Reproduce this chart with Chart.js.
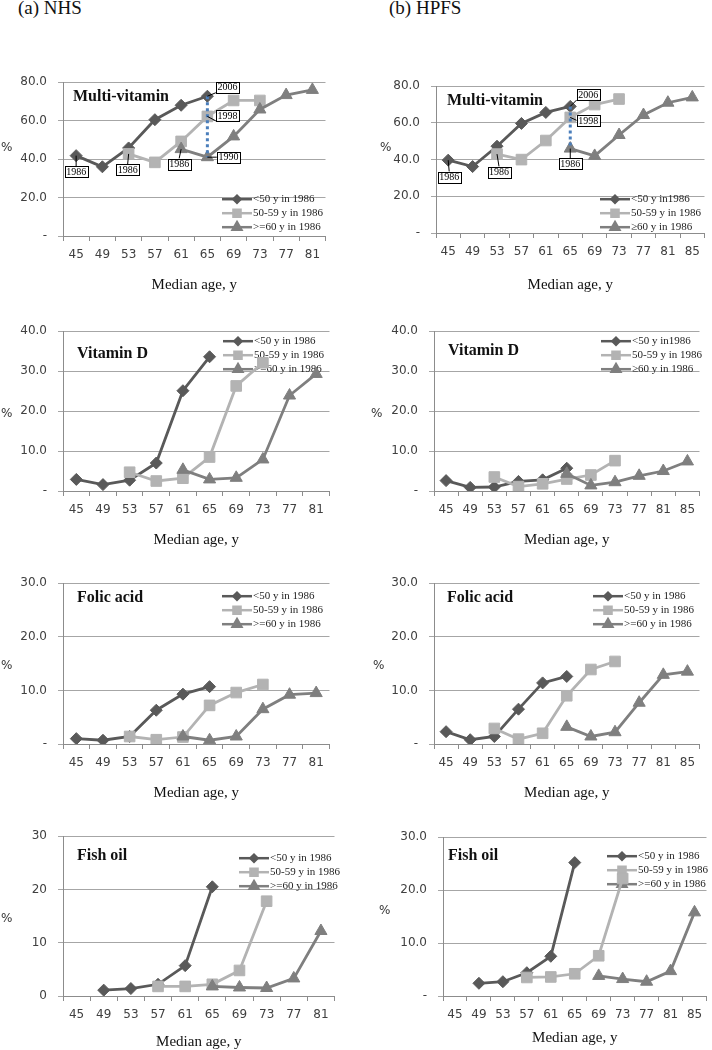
<!DOCTYPE html>
<html>
<head>
<meta charset="utf-8">
<script src="https://cdn.jsdelivr.net/npm/chart.js@4.4.1/dist/chart.umd.min.js"></script>
<style>
  body { margin: 0; background: #fff; }
  #page { position: relative; width: 712px; height: 1050px; overflow: hidden; background: #fff; }
  .head { position: absolute; top: -1px; font: 19px/18px "Liberation Serif", serif; color: #111; }
  canvas { position: absolute; }
</style>
</head>
<body>
<div id="page">
  <div class="head" style="left:18px">(a) NHS</div>
  <div class="head" style="left:389px">(b) HPFS</div>
</div>
<script>
// categorie (età mediana)
const nhsAges = ['45', '49', '53', '57', '61', '65', '69', '73', '77', '81'];
const hpfsAges = ['45', '49', '53', '57', '61', '65', '69', '73', '77', '81', '85'];

const legendA = ['<50 y in 1986', '50-59 y in 1986', '>=60 y in 1986'];
const legendB = ['<50 y in1986', '50-59 y in 1986', '\u226560 y in 1986'];

// Multi-vitamin
const nhsMultiU50  = [41.8, 36.0, 45.8, 60.5, 68.0, 72.7, null, null, null, null];
const nhsMulti5059 = [null, null, 42.7, 38.3, 49.2, 62.2, 70.5, 70.5, null, null];
const nhsMulti60   = [null, null, null, null, 45.2, 41.0, 51.8, 65.8, 73.3, 76.0];
const hpfsMultiU50  = [39.7, 36.2, 47.3, 59.7, 65.7, 69.0, null, null, null, null, null];
const hpfsMulti5059 = [null, null, 43.0, 40.0, 50.4, 63.0, 70.0, 73.0, null, null, null];
const hpfsMulti60   = [null, null, null, null, null, 46.0, 42.0, 53.4, 64.3, 71.0, 73.9];

// Vitamin D
const nhsVitDU50  = [2.9, 1.6, 2.7, 7.0, 25.1, 33.6, null, null, null, null];
const nhsVitD5059 = [null, null, 4.7, 2.5, 3.2, 8.5, 26.3, 32.1, null, null];
const nhsVitD60   = [null, null, null, null, 5.3, 2.9, 3.3, 7.9, 23.9, 29.3];
const hpfsVitDU50  = [2.6, 0.9, 1.0, 2.4, 2.8, 5.7, null, null, null, null, null];
const hpfsVitD5059 = [null, null, 3.5, 1.1, 1.8, 3.0, 4.0, 7.6, null, null, null];
const hpfsVitD60   = [null, null, null, null, null, 4.3, 1.4, 2.2, 3.8, 5.0, 7.4];

// Folic acid
const nhsFolicU50  = [1.0, 0.7, 1.4, 6.3, 9.3, 10.7, null, null, null, null];
const nhsFolic5059 = [null, null, 1.4, 0.8, 1.3, 7.2, 9.6, 11.1, null, null];
const nhsFolic60   = [null, null, null, null, 1.4, 0.7, 1.4, 6.5, 9.2, 9.5];
const hpfsFolicU50  = [2.3, 0.8, 1.4, 6.5, 11.4, 12.6, null, null, null, null, null];
const hpfsFolic5059 = [null, null, 2.9, 0.9, 2.0, 9.0, 13.9, 15.4, null, null, null];
const hpfsFolic60   = [null, null, null, null, null, 3.2, 1.4, 2.2, 7.7, 12.9, 13.5];

// Fish oil
const nhsFishU50  = [null, 1.1, 1.4, 2.2, 5.7, 20.5, null, null, null, null];
const nhsFish5059 = [null, null, null, 1.8, 1.8, 2.2, 4.8, 17.8, null, null];
const nhsFish60   = [null, null, null, null, null, 1.8, 1.6, 1.5, 3.3, 12.2];
const hpfsFishU50  = [null, 2.4, 2.7, 4.4, 7.5, 25.2, null, null, null, null, null];
const hpfsFish5059 = [null, null, null, 3.5, 3.6, 4.2, 7.6, 22.2, null, null, null];
const hpfsFish60   = [null, null, null, null, null, null, 3.8, 3.2, 2.7, 4.7, 15.8];

const colors = ['#595959', '#b3b3b3', '#7f7f7f'];
const styles = [
  { pointStyle: 'rectRot', radius: 6, legendRadius: 3.5 },
  { pointStyle: 'rect', radius: 7.5, legendRadius: 5 },
  { pointStyle: 'triangle', radius: 7, legendRadius: 5 }
];

const Y_W = 68, PAD_T = 12, PAD_R = 4, X_H = 60;

// pannelli: rect = area del grafico [sinistra, alto, destra, basso]
const panels = [
  { rect: [63, 76, 330, 236], labels: nhsAges, series: [nhsMultiU50, nhsMulti5059, nhsMulti60], names: legendA,
    title: 'Multi-vitamin', ymax: 80, step: 20, titlePos: [10, 15], legendPos: [159, 117], pct: [-62, 66], xTitleY: 49,
    dotted: [5, 5],
    callouts: [
      { ds: 0, i: 0, dx: 0, dy: 16, text: '1986' },
      { ds: 1, i: 2, dx: -1, dy: 16, text: '1986' },
      { ds: 2, i: 4, dx: -2, dy: 15, text: '1986' },
      { ds: 0, i: 5, dx: 20, dy: -9, text: '2006' },
      { ds: 1, i: 5, dx: 20, dy: -1, text: '1998' },
      { ds: 2, i: 5, dx: 21, dy: 0, text: '1990' }
    ] },
  { rect: [436, 80, 709, 233], labels: hpfsAges, series: [hpfsMultiU50, hpfsMulti5059, hpfsMulti60], names: legendB,
    title: 'Multi-vitamin', ymax: 80, step: 20, titlePos: [11, 15], legendPos: [164, 113], pct: [-56, 62], xTitleY: 52,
    dotted: [5, 5],
    callouts: [
      { ds: 0, i: 0, dx: 1, dy: 17, text: '1986' },
      { ds: 1, i: 2, dx: 2, dy: 18, text: '1986' },
      { ds: 0, i: 5, dx: 18, dy: -12, text: '2006' },
      { ds: 1, i: 5, dx: 18, dy: 3, text: '1998' },
      { ds: 2, i: 5, dx: 0, dy: 15, text: '1986' }
    ] },
  { rect: [63, 325, 334, 491], labels: nhsAges, series: [nhsVitDU50, nhsVitD5059, nhsVitD60], names: legendA,
    title: 'Vitamin D', ymax: 40, step: 10, titlePos: [14, 23], legendPos: [160, 10], pct: [-62, 83], xTitleY: 49 },
  { rect: [434, 325, 704, 491], labels: hpfsAges, series: [hpfsVitDU50, hpfsVitD5059, hpfsVitD60], names: legendB,
    title: 'Vitamin D', ymax: 40, step: 10, titlePos: [14, 20], legendPos: [167, 10], pct: [-63, 83], xTitleY: 49 },
  { rect: [63, 577, 334, 744], labels: nhsAges, series: [nhsFolicU50, nhsFolic5059, nhsFolic60], names: legendA,
    title: 'Folic acid', ymax: 30, step: 10, titlePos: [14, 15], legendPos: [159, 13], pct: [-62, 83], xTitleY: 49 },
  { rect: [434, 577, 704, 744], labels: hpfsAges, series: [hpfsFolicU50, hpfsFolic5059, hpfsFolic60], names: legendA,
    title: 'Folic acid', ymax: 30, step: 10, titlePos: [13, 15], legendPos: [159, 13], pct: [-61, 83], xTitleY: 49 },
  { rect: [63, 830, 339, 996], labels: nhsAges, series: [nhsFishU50, nhsFish5059, nhsFish60], names: legendA,
    title: 'Fish oil', ymax: 30, step: 10, intY: true, titlePos: [14, 20], legendPos: [176, 22], pct: [-62, 83], xTitleY: 46 },
  { rect: [443, 831, 711, 996], labels: hpfsAges, series: [hpfsFishU50, hpfsFish5059, hpfsFish60], names: legendA,
    title: 'Fish oil', ymax: 30, step: 10, titlePos: [5, 19], legendPos: [164, 19], pct: [-64, 74], xTitleY: 42 }
];

function marker(ctx, k, x, y, r) {
  ctx.fillStyle = colors[k];
  ctx.strokeStyle = colors[k];
  Chart.helpers.drawPoint(ctx, { pointStyle: styles[k].pointStyle, radius: r, rotation: 0, borderWidth: 1 }, x, y);
}

// titolo, legenda, callout e linea tratteggiata
const decorations = {
  id: 'decorations',
  beforeDatasetsDraw(chart, args, o) {
    const ctx = chart.ctx, a = chart.chartArea;
    ctx.save();
    ctx.fillStyle = '#111';
    ctx.font = 'bold 16px "Liberation Serif"';
    ctx.textBaseline = 'middle';
    ctx.textAlign = 'left';
    ctx.fillText(o.title, a.left + o.titlePos[0], a.top + o.titlePos[1]);

    const lx = a.left + o.legendPos[0];
    o.names.forEach((name, k) => {
      const ly = a.top + o.legendPos[1] + k * 14;
      ctx.strokeStyle = colors[k];
      ctx.lineWidth = 2.5;
      ctx.beginPath();
      ctx.moveTo(lx, ly);
      ctx.lineTo(lx + 30, ly);
      ctx.stroke();
      marker(ctx, k, lx + 15, ly, styles[k].legendRadius);
      ctx.fillStyle = '#222';
      ctx.font = '11px "Liberation Serif"';
      ctx.textAlign = 'left';
      ctx.textBaseline = 'middle';
      ctx.fillText(name, lx + 31, ly);
    });
    ctx.restore();
  },
  afterDatasetsDraw(chart, args, o) {
    const ctx = chart.ctx;
    ctx.save();
    if (o.dotted) {
      const p1 = chart.getDatasetMeta(0).data[o.dotted[0]];
      const p2 = chart.getDatasetMeta(2).data[o.dotted[1]];
      ctx.strokeStyle = '#4a7ebb';
      ctx.lineWidth = 3;
      ctx.setLineDash([3, 3]);
      ctx.beginPath();
      ctx.moveTo(p1.x, p1.y);
      ctx.lineTo(p2.x, p2.y);
      ctx.stroke();
      ctx.setLineDash([]);
    }
    (o.callouts || []).forEach(c => {
      const p = chart.getDatasetMeta(c.ds).data[c.i];
      const w = 23, h = 11;
      const bx = p.x + c.dx, by = p.y + c.dy;
      let tx, ty;
      if (Math.abs(c.dy) >= Math.abs(c.dx)) {
        tx = bx; ty = by - Math.sign(c.dy) * h / 2;
      } else {
        tx = bx - Math.sign(c.dx) * w / 2; ty = by + (c.dy < 0 ? h / 2 : 0);
      }
      ctx.strokeStyle = '#000';
      ctx.lineWidth = 1;
      ctx.beginPath();
      ctx.moveTo(tx, ty);
      ctx.lineTo(p.x, p.y);
      ctx.stroke();
      ctx.fillStyle = '#fff';
      ctx.fillRect(bx - w / 2, by - h / 2, w, h);
      ctx.strokeRect(Math.round(bx - w / 2) + 0.5, Math.round(by - h / 2) + 0.5, w, h);
      ctx.fillStyle = '#000';
      ctx.font = '10px "Liberation Serif"';
      ctx.textAlign = 'center';
      ctx.textBaseline = 'middle';
      ctx.fillText(c.text, bx, by + 0.5);
    });
    ctx.restore();
  },
  afterDraw(chart, args, o) {
    const ctx = chart.ctx, a = chart.chartArea;
    ctx.save();
    ctx.fillStyle = '#333';
    ctx.font = '12px "DejaVu Sans"';
    ctx.textAlign = 'left';
    ctx.textBaseline = 'middle';
    ctx.fillText('%', a.left + o.pct[0], a.top + o.pct[1]);
    ctx.fillStyle = '#111';
    ctx.font = '15px "Liberation Serif"';
    ctx.textAlign = 'center';
    ctx.fillText('Median age, y', (a.left + a.right) / 2, a.bottom + o.xTitleY);
    ctx.restore();
  }
};

Chart.defaults.font.family = 'DejaVu Sans';
Chart.defaults.color = '#333';

const page = document.getElementById('page');

panels.forEach(p => {
  const [l, t, r, b] = p.rect;
  const canvas = document.createElement('canvas');
  canvas.width = r - l + Y_W + PAD_R;
  canvas.height = b - t + PAD_T + X_H;
  canvas.style.left = (l - Y_W) + 'px';
  canvas.style.top = (t - PAD_T) + 'px';
  page.appendChild(canvas);

  new Chart(canvas.getContext('2d'), {
    type: 'line',
    data: {
      labels: p.labels,
      datasets: p.series.map((values, k) => ({
        label: p.names[k],
        data: values,
        borderColor: colors[k],
        backgroundColor: colors[k],
        borderWidth: 2.8,
        pointStyle: styles[k].pointStyle,
        pointRadius: styles[k].radius,
        pointBorderWidth: 1,
        pointBorderColor: colors[k],
        pointBackgroundColor: colors[k],
        spanGaps: false,
        tension: 0,
        order: 3 - k
      }))
    },
    options: {
      responsive: false,
      animation: false,
      devicePixelRatio: 1,
      layout: { padding: { left: 0, top: PAD_T, right: PAD_R, bottom: 0 } },
      plugins: {
        legend: { display: false },
        tooltip: { enabled: false },
        decorations: {
          title: p.title, names: p.names, titlePos: p.titlePos, legendPos: p.legendPos,
          pct: p.pct, xTitleY: p.xTitleY, dotted: p.dotted, callouts: p.callouts
        }
      },
      scales: {
        x: {
          type: 'category',
          offset: true,
          afterFit: s => { s.height = X_H; },
          grid: { offset: true, drawOnChartArea: false, tickLength: 5, color: '#8c8c8c' },
          border: { color: '#8c8c8c' },
          ticks: { autoSkip: false, maxRotation: 0, padding: 7, font: { size: 12 }, color: '#404040' }
        },
        y: {
          min: 0,
          max: p.ymax,
          afterFit: s => { s.width = Y_W; },
          grid: { color: '#a6a6a6', tickLength: 5 },
          border: { color: '#8c8c8c' },
          ticks: {
            stepSize: p.step,
            padding: 11,
            font: { size: 12 },
            color: '#404040',
            callback: v => p.intY ? String(v) : (v === 0 ? '-' : v.toFixed(1))
          }
        }
      }
    },
    plugins: [decorations]
  });
});
</script>
</body>
</html>
